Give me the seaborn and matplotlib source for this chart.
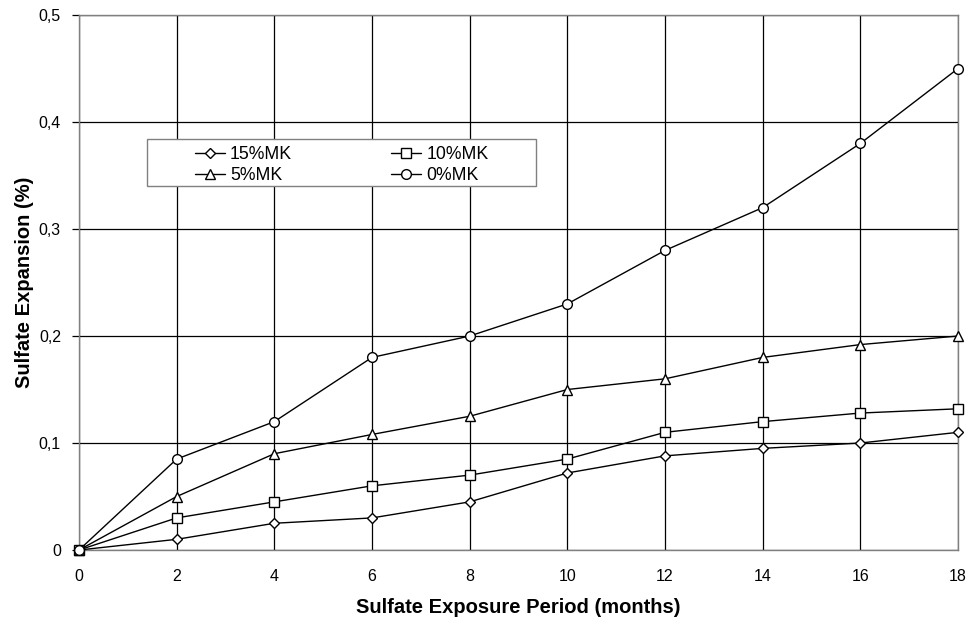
import matplotlib
matplotlib.use("Agg")
import matplotlib.pyplot as plt
import pandas as pd
import seaborn as sns
from matplotlib.patches import Rectangle

months = [0, 2, 4, 6, 8, 10, 12, 14, 16, 18]
mk15 = [0, 0.010, 0.025, 0.030, 0.045, 0.072, 0.088, 0.095, 0.100, 0.110]
mk10 = [0, 0.030, 0.045, 0.060, 0.070, 0.085, 0.110, 0.120, 0.128, 0.132]
mk5 = [0, 0.050, 0.090, 0.108, 0.125, 0.150, 0.160, 0.180, 0.192, 0.200]
mk0 = [0, 0.085, 0.120, 0.180, 0.200, 0.230, 0.280, 0.320, 0.380, 0.450]

series = {"15%MK": mk15, "10%MK": mk10, "5%MK": mk5, "0%MK": mk0}
markers = {"15%MK": "D", "10%MK": "s", "5%MK": "^", "0%MK": "o"}
msizes = {"15%MK": 5, "10%MK": 7, "5%MK": 7.5, "0%MK": 7}

sns.set_style("white")
plt.rcParams["font.family"] = ["Liberation Sans", "DejaVu Sans"]
plt.rcParams["text.color"] = "black"
plt.rcParams["axes.labelcolor"] = "black"
plt.rcParams["xtick.color"] = "black"
plt.rcParams["ytick.color"] = "black"

fig = plt.figure(figsize=(9.74, 6.21), dpi=100)
ax = fig.add_axes([0.0811, 0.1143, 0.9025, 0.8615])

handles = {}
for name, vals in series.items():
    df = pd.DataFrame({"month": months, "exp": vals})
    sns.lineplot(data=df, x="month", y="exp", ax=ax, color="black", lw=1,
                 marker=markers[name], markersize=msizes[name],
                 markerfacecolor="white", markeredgecolor="black",
                 markeredgewidth=1, label=name, zorder=3, clip_on=False)
    handles[name] = ax.lines[-1]

ax.set_xlim(0, 18)
ax.set_ylim(0, 0.5)
ax.set_xticks(months)
ax.set_yticks([0, 0.1, 0.2, 0.3, 0.4, 0.5])
ax.set_yticklabels(["0", "0,1", "0,2", "0,3", "0,4", "0,5"])
ax.grid(True, color="black", lw=0.9)
ax.tick_params(axis="x", labelsize=11.5, length=0, pad=14)
ax.tick_params(axis="y", labelsize=11.5, length=5, width=0.9, pad=8, left=True)
for sp in ax.spines.values():
    sp.set_color("#808080")
    sp.set_linewidth(1)

ax.set_xlabel("Sulfate Exposure Period (months)", fontsize=14.5, fontweight="bold", labelpad=10)
ax.set_ylabel("Sulfate Expansion (%)", fontsize=14.5, fontweight="bold", labelpad=3.5)

# legend box (drawn separately so the entries can sit centred inside it)
ax.add_patch(Rectangle((0.0774, 0.680), 0.4426, 0.088, transform=ax.transAxes,
                       facecolor="white", edgecolor="#808080", lw=1, zorder=4))
order = ["15%MK", "5%MK", "10%MK", "0%MK"]
leg = ax.legend([handles[k] for k in order], order, ncol=2, loc="center",
                bbox_to_anchor=(0.2987, 0.7195), frameon=False,
                fontsize=12.7, borderaxespad=0, borderpad=0,
                handlelength=1.7, handletextpad=0.3, labelspacing=0.25,
                columnspacing=5.6)
leg.set_zorder(5)

fig.savefig("out.png", dpi=100)
